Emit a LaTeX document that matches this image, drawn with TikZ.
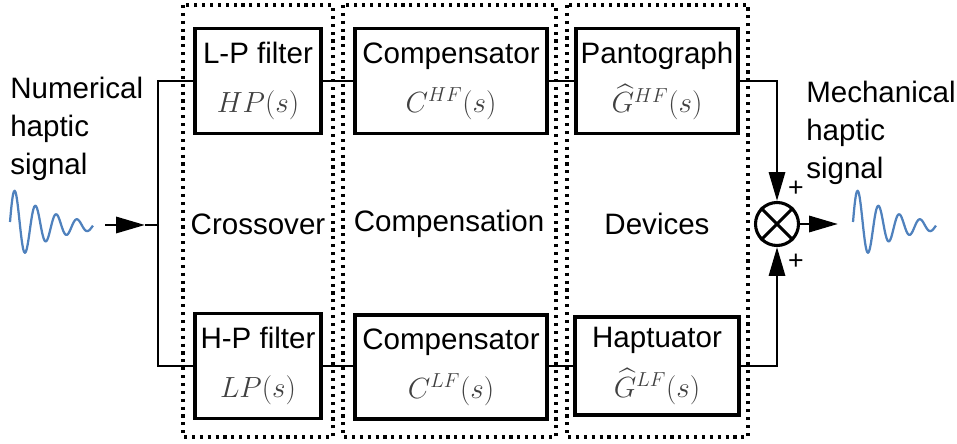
\documentclass[tikz,border=0pt]{standalone}
\usepackage{amsmath}
\usepackage{fontspec}
\setmainfont{Liberation Sans}
\usepackage{xcolor}
\usetikzlibrary{positioning,arrows.meta}
\definecolor{wavecol}{HTML}{4F81BD}
\newcommand{\tfn}[1]{{\fontsize{20}{22}\selectfont\color{black!75}$#1$}}

\begin{document}
\begin{tikzpicture}[
    x=0.025cm, y=-0.025cm,
    every node/.style={font=\fontsize{21}{27}\selectfont},
    box/.style={draw, line width=2.3pt, minimum height=2.625cm, align=center, inner sep=2pt},
    frame/.style={line width=2.2pt, dash pattern=on 2.2pt off 3.4pt},
    wire/.style={line width=2.1pt},
    arr/.style={wire, -{Triangle[length=0.72cm, width=0.4cm]}},
    wave/.style={wavecol, line width=1.6pt, line join=round}
  ]
    \useasboundingbox (0,0) rectangle (957,444);
    % Stage frames
    \draw[frame] (183,5) rectangle (333,437);
    \draw[frame] (343,5) rectangle (556,437);
    \draw[frame] (567,5) rectangle (748,437);
    \node (xover) at (258,224) {Crossover};
    \node (comp) at (449,224) {Compensation};
    \node (dev) at (657,224) {Devices};
    % Top row
    \node[box, minimum width=3.15cm] (lpf) at (258,81) {L-P filter\\[8pt]\tfn{HP(s)}};
    \node[box, minimum width=4.8cm] (comphf) at (451,81) {Compensator\\[8pt]\tfn{C^{HF}(s)}};
    \node[box, minimum width=4.05cm] (pant) at (657,81) {Pantograph\\[8pt]\tfn{\widehat{G}^{HF}(s)}};
    % Bottom row
    \node[box, minimum width=3.15cm] (hpf) at (258,366) {H-P filter\\[8pt]\tfn{LP(s)}};
    \node[box, minimum width=4.8cm, minimum height=2.6cm] (complf) at (451,367) {Compensator\\[8pt]\tfn{C^{LF}(s)}};
    \node[box, minimum width=4.1cm, minimum height=2.45cm] (hapt) at (657,366) {Haptuator\\[8pt]\tfn{\widehat{G}^{LF}(s)}};
    % Summing junction
    \node[draw, circle, line width=2.2pt, minimum size=1.075cm, inner sep=0pt] (sum) at (777,224) {};
    \draw[line width=2.2pt] (sum.north west) -- (sum.south east);
    \draw[line width=2.2pt] (sum.north east) -- (sum.south west);
    \node[font=\fontsize{19}{20}\selectfont] (plushf) at (796,189) {+};
    \node[font=\fontsize{19}{20}\selectfont] (pluslf) at (796,262) {+};
    % Signals
    \node[anchor=north west, align=left, inner sep=0pt] (numsig) at (10,77) {Numerical\\haptic\\signal};
    \node[anchor=north west, align=left, inner sep=0pt] (mechsig) at (806,81) {Mechanical\\haptic\\signal};
    \foreach \wx in {10,853}
      \draw[wave] plot[domain=0:1, samples=90, smooth] ({\wx+83*\x}, {226-40*exp(-2.2*\x)*sin((8*pi*\x+0.1) r)});
    \coordinate (in) at (105,225);
    \coordinate (tip) at (145,225);
    \coordinate (split) at (158,225);
    \coordinate (out) at (838,224);
    % Arrows
    \draw[arr] (in) -- (tip);
    \draw[wire] (tip) -- (split);
    \draw[wire] (lpf.west) -| (split) |- (hpf.west);
    \draw[wire] (lpf.east) -- (comphf.west);
    \draw[wire] (comphf.east) -- (pant.west);
    \draw[wire] (hpf.east) -- (hpf.east -| complf.west);
    \draw[wire] (complf.east |- hapt.west) -- (hapt.west);
    \draw[arr] (pant.east) -| (sum.north);
    \draw[arr] (hapt.east) -| (sum.south);
    \draw[arr] (sum.east) -- (out);
  \end{tikzpicture}
\end{document}
